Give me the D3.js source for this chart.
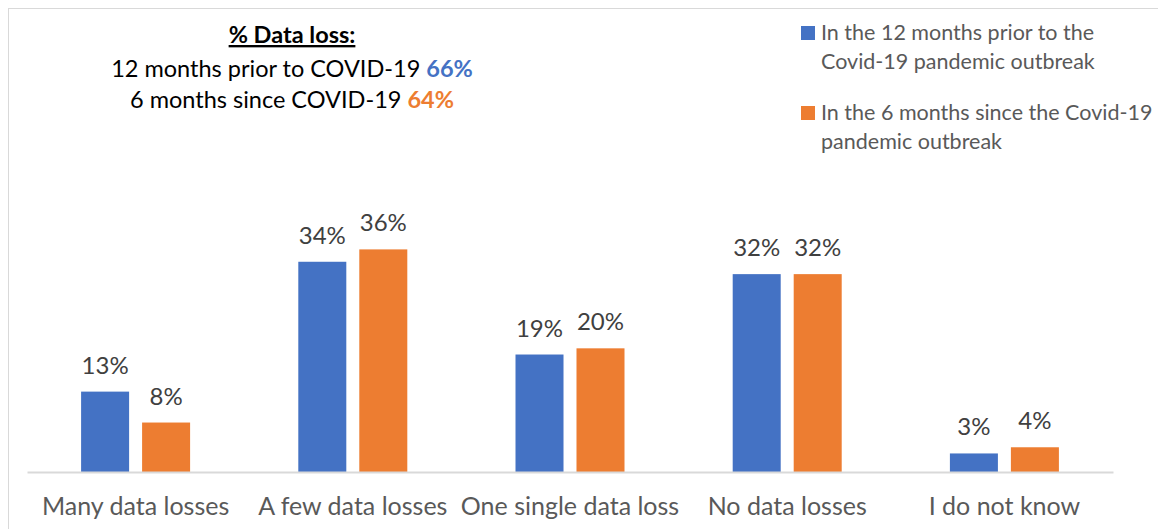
<!DOCTYPE html>
<meta charset="utf-8">
<style>
  body { margin: 0; background: #fff; }
  text { font-family: Lato, "Open Sans", sans-serif; }
</style>
<body>
<script src="https://d3js.org/d3.v7.min.js"></script>
<script>
// data
var categories = ["Many data losses", "A few data losses", "One single data loss", "No data losses", "I do not know"];
var seriesNames = ["In the 12 months prior to the Covid-19 pandemic outbreak",
                   "In the 6 months since the Covid-19 pandemic outbreak"];
var prior = [13, 34, 19, 32, 3];
var since = [8, 36, 20, 32, 4];
var colors = ["#4472c4", "#ed7d31"];

var W = 1158, H = 529;

var svg = d3.select("body").append("svg")
    .attr("width", W)
    .attr("height", H);

// chart frame (cut off at right / bottom)
svg.append("rect")
    .attr("x", 8.5).attr("y", 8.5)
    .attr("width", W + 20).attr("height", H + 20)
    .style("fill", "none")
    .style("stroke", "#d9d9d9");

// scales
var x0 = d3.scaleBand()
    .domain(categories)
    .range([27, 1113]);
var x1 = d3.scaleBand()
    .domain([0, 1])
    .range([0, 109])
    .paddingInner(0.213);
var y = d3.scaleLinear()
    .domain([0, 60])
    .range([472, 101]);

var rows = categories.map(function(c, i) { return {cat: c, vals: [prior[i], since[i]]}; });
var groupOffset = (x0.bandwidth() - 109) / 2;

var g = svg.selectAll(".grp")
    .data(rows)
  .enter().append("g")
    .attr("class", "grp")
    .attr("transform", function(d) { return "translate(" + (x0(d.cat) + groupOffset) + ",0)"; });

g.selectAll("rect")
    .data(function(d) { return d.vals; })
  .enter().append("rect")
    .attr("x", function(d, i) { return x1(i); })
    .attr("width", x1.bandwidth())
    .attr("y", function(d) { return y(d); })
    .attr("height", function(d) { return y(0) - y(d); })
    .style("fill", function(d, i) { return colors[i]; });

g.selectAll(".lbl")
    .data(function(d) { return d.vals; })
  .enter().append("text")
    .attr("class", "lbl")
    .attr("x", function(d, i) { return x1(i) + x1.bandwidth() / 2; })
    .attr("y", function(d) { return y(d) - 18; })
    .attr("text-anchor", "middle")
    .style("font-size", "24px")
    .style("fill", "#404040")
    .text(function(d) { return d + "%"; });

// x axis
var ax = svg.append("g")
    .attr("transform", "translate(0," + y(0) + ")")
    .call(d3.axisBottom(x0).tickSize(0).tickPadding(0));
ax.select(".domain").style("stroke", "#d9d9d9").style("stroke-width", 2);
ax.selectAll("text")
    .attr("y", 43)
    .attr("dy", 0)
    .style("font-family", "Lato, sans-serif")
    .style("font-size", "25px")
    .style("fill", "#595959");

// title block
var t = svg.append("g").attr("transform", "translate(292,0)");
t.append("text")
    .attr("y", 43)
    .attr("text-anchor", "middle")
    .style("font-size", "23.5px")
    .style("font-weight", "bold")
    .style("text-decoration", "underline")
    .style("fill", "#000")
    .text("% Data loss:");
var l1 = t.append("text").attr("y", 77).attr("text-anchor", "middle")
    .style("font-size", "23.5px").style("fill", "#000");
l1.append("tspan").text("12 months prior to COVID-19 ");
l1.append("tspan").style("font-weight", "bold").style("fill", colors[0]).text("66%");
var l2 = t.append("text").attr("y", 108).attr("text-anchor", "middle")
    .style("font-size", "23.5px").style("fill", "#000");
l2.append("tspan").text("6 months since COVID-19 ");
l2.append("tspan").style("font-weight", "bold").style("fill", colors[1]).text("64%");

// legend
var legendLines = [["In the 12 months prior to the", "Covid-19 pandemic outbreak"],
                   ["In the 6 months since the Covid-19", "pandemic outbreak"]];
var leg = svg.selectAll(".leg")
    .data(legendLines)
  .enter().append("g")
    .attr("class", "leg")
    .attr("transform", function(d, i) { return "translate(801," + (26 + i * 80) + ")"; });
leg.append("rect")
    .attr("width", 14).attr("height", 14)
    .style("fill", function(d, i) { return colors[i]; });
leg.selectAll("text")
    .data(function(d) { return d; })
  .enter().append("text")
    .attr("x", 20)
    .attr("y", function(d, j) { return 14 + j * 29; })
    .style("font-size", "21.5px")
    .style("fill", "#595959")
    .text(function(d) { return d; });
</script>
</body>
